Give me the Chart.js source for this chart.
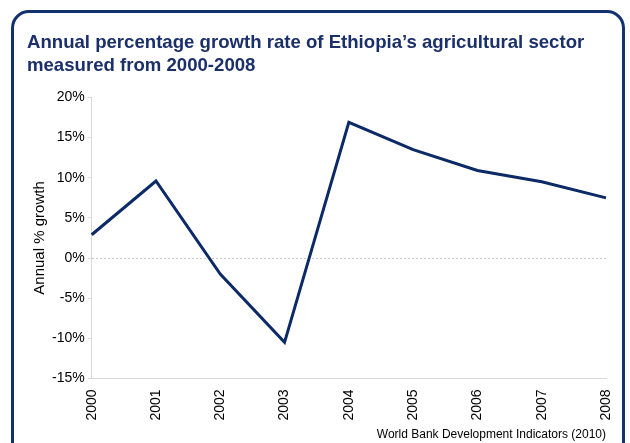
<!DOCTYPE html>
<html>
<head>
    <meta charset="utf-8">
    <title>Ethiopia agricultural growth</title>
    <style>
        body { margin: 0; background: #fff; }
        #frame {
            position: absolute; left: 11px; top: 10px;
            width: 608px; height: 470px;
            border: 3px solid #13306f; border-radius: 18px;
        }
        #wrap { position: absolute; left: 0; top: 0; width: 630px; height: 443px; }
    </style>
</head>
<body>
    <div id="frame"></div>
    <div id="wrap"><canvas id="myChart"></canvas></div>

    <script src="https://cdn.jsdelivr.net/npm/chart.js"></script>
    <script>
        // data
        const years = ['2000', '2001', '2002', '2003', '2004', '2005', '2006', '2007', '2008'];
        const growth = [2.9, 9.6, -2.0, -10.5, 16.9, 13.5, 10.9, 9.5, 7.5];
        const titleLines = ['Annual percentage growth rate of Ethiopia\u2019s agricultural sector', 'measured from 2000-2008'];
        const sourceText = 'World Bank Development Indicators (2010)';

        const font = 'Liberation Sans, Arial, sans-serif';
        const navy = '#0c2a66';

        const config = {
            type: 'line',
            data: {
                labels: years,
                datasets: [{
                    data: growth,
                    borderColor: navy,
                    borderWidth: 3,
                    pointRadius: 0,
                    tension: 0
                }]
            },
            options: {
                responsive: false,
                animation: false,
                layout: { padding: { left: 27, right: 24, top: 23, bottom: 1 } },
                plugins: {
                    legend: { display: false },
                    tooltip: { enabled: false },
                    title: {
                        display: true,
                        text: titleLines,
                        align: 'start',
                        color: '#1b2f6b',
                        font: { family: font, size: 18.6, weight: 'bold', lineHeight: 1.25 },
                        padding: { top: 8, bottom: 20 }
                    },
                    subtitle: {
                        display: true,
                        position: 'bottom',
                        align: 'end',
                        text: sourceText,
                        color: '#000',
                        font: { family: font, size: 12 },
                        padding: { top: 4, bottom: 0 }
                    }
                },
                scales: {
                    x: {
                        offset: false,
                        grid: { display: false },
                        border: { color: '#d9d9d9' },
                        ticks: {
                            color: '#000',
                            font: { family: font, size: 14 },
                            minRotation: 90,
                            maxRotation: 90,
                            padding: 3
                        }
                    },
                    y: {
                        min: -15,
                        max: 20,
                        border: { color: '#d9d9d9', dash: [2, 2] },
                        grid: {
                            color: (ctx) => ctx.tick && ctx.tick.value === 0 ? '#c8c8c8' : 'rgba(0,0,0,0)',
                            tickColor: '#d9d9d9',
                            tickLength: 4
                        },
                        ticks: {
                            stepSize: 5,
                            color: '#000',
                            font: { family: font, size: 14 },
                            padding: 3,
                            callback: (v) => v + '%'
                        },
                        title: {
                            display: true,
                            text: 'Annual % growth',
                            color: '#000',
                            font: { family: font, size: 15 },
                            padding: { top: 4, bottom: 0 }
                        }
                    }
                }
            }
        };

        const canvas = document.getElementById('myChart');
        canvas.width = 630;
        canvas.height = 443;
        const myChart = new Chart(canvas, config);
    </script>
</body>
</html>
